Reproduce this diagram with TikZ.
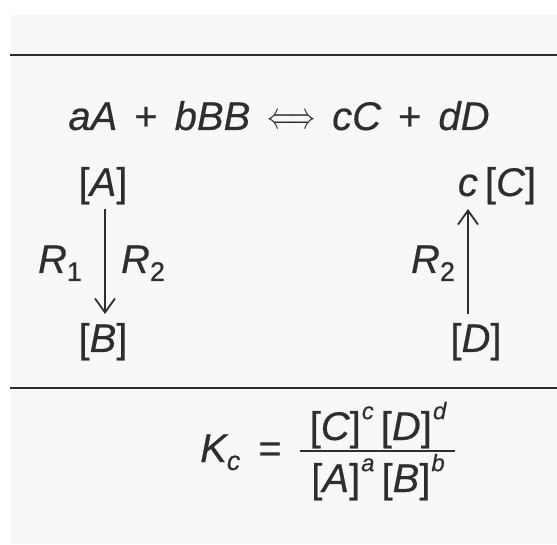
\documentclass[tikz,border=0pt]{standalone}
\usepackage{fontspec}
\setmainfont{Liberation Sans}[FakeBold=0.4]
\usetikzlibrary{arrows.meta,calc}
\definecolor{ink}{HTML}{2E2E2E}
\definecolor{panel}{HTML}{F8F8F8}
\newcommand\supx[1]{\raisebox{0.52em}{\fontsize{24}{24}\selectfont\hspace{1pt}#1}}
\newcommand\subx[1]{\raisebox{-0.2em}{\fontsize{27}{27}\selectfont #1}}
\newcommand\bx[1]{{\upshape[}#1{\upshape]}}
\newcommand\gap{\hspace{17pt}}
\begin{document}
\begin{tikzpicture}[x=1pt,y=1pt,
  txt/.style={font=\fontsize{40}{46}\selectfont\itshape, text=ink, inner sep=0pt},
  rule/.style={draw=ink, line width=2pt},
  arr/.style={draw=ink, line width=1.8pt, -{Straight Barb[length=14pt,width=20pt,line width=1.8pt]}}]
\useasboundingbox (0,0) rectangle (557,544);
\fill[white] (0,0) rectangle (557,544);
\fill[panel] (10,0) rectangle (557,529);
\coordinate (t1) at (10,489); \coordinate (t2) at (557,489);
\coordinate (b1) at (10,156); \coordinate (b2) at (557,156);
\draw[rule] (t1) -- (t2);
\draw[rule] (b1) -- (b2);
\node[txt, anchor=base] (eq) at (279,414) {aA\gap{\upshape+}\gap bBB\gap\raisebox{1pt}{\scalebox{1.05}[1.5]{$\Longleftrightarrow$}}\gap cC\gap{\upshape+}\gap dD};
\node[txt, anchor=base] (A) at (103,348) {\bx{A}};
\node[txt, anchor=base] (B) at (103,192) {\bx{B}};
\node[txt, anchor=base] (C) at (497,348) {c\hspace{7pt}\bx{C}};
\node[txt, anchor=base] (D) at (476,192) {\bx{D}};
\node[txt, anchor=base] (R1) at (60,271) {R\subx{\upshape 1}};
\node[txt, anchor=base] (R2a) at (143,271) {R\subx{\upshape 2}};
\node[txt, anchor=base] (R2b) at (433,271) {R\subx{\upshape 2}};
\draw[arr] ($(A.base)+(2,-13)$) -- ($(B.base)+(2,38)$);
\draw[arr] ($(D.base)+(-8,38)$) -- ($(C.base)+(-29,-13)$);
\node[txt, anchor=base west] (Kc) at (200,82) {K\subx{c}};
\node[txt, anchor=base, font=\fontsize{40}{46}\selectfont] (eqs) at (270,82) {=};
\node[txt, anchor=base] (num) at (378,104) {\bx{C}\supx{c}\hspace{7pt}\bx{D}\supx{d}};
\node[txt, anchor=base] (den) at (378,52) {\bx{A}\supx{a}\hspace{7pt}\bx{B}\supx{b}};
\coordinate (barL) at (300,93); \coordinate (barR) at (455,93);
\draw[draw=ink, line width=1.6pt] (barL) -- (barR);
\end{tikzpicture}
\end{document}
